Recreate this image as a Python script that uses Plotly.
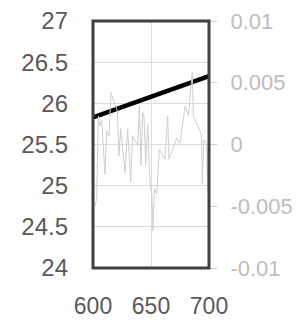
import plotly.graph_objects as go

# ---- data ----
trend_x = [600, 625, 650, 675, 700]
trend_y = [25.83, 25.955, 26.08, 26.205, 26.33]

noise_x = [601.7, 603.2, 604.6, 606.0, 607.5, 610.3, 611.8, 613.8, 615.5, 621.0,
           622.4, 623.9, 627.6, 629.9, 632.5, 634.2, 638.5, 640.0, 641.4, 642.8,
           644.0, 645.4, 647.1, 649.1, 650.6, 651.7, 652.9, 654.9, 657.2, 662.1,
           664.4, 665.5, 672.1, 675.0, 679.3, 682.2, 685.6, 686.5, 692.2, 693.7,
           694.2, 695.7, 698.0, 698.9, 699.5]
noise_y = [-0.0050, -0.0044, 0.0023, 0.0015, 0.0020, -0.0024, 0.0011, 0.0007, 0.0042, 0.0027,
           -0.0009, 0.0013, -0.0023, 0.0013, -0.0030, 0.0007, -0.0001, 0.0031, -0.0017, 0.0026,
           0.0023, -0.0017, 0.0016, -0.0031, -0.0039, -0.0070, -0.0036, -0.0040, -0.0004, -0.0012,
           0.0023, -0.0012, 0.0005, 0.0001, 0.0031, 0.0024, 0.0059, 0.0023, 0.0011, 0.0007,
           -0.0032, 0.0004, 0.0001, -0.0038, -0.0001]

x_ticks = [600, 650, 700]
left_ticks = [24, 24.5, 25, 25.5, 26, 26.5, 27]
left_labels = ["24", "24.5", "25", "25.5", "26", "26.5", "27"]
right_ticks = [-0.01, -0.005, 0, 0.005, 0.01]
right_labels = ["-0.01", "-0.005", "0", "0.005", "0.01"]

FONT = "Liberation Sans"

fig = go.Figure()
fig.add_trace(go.Scatter(x=noise_x, y=noise_y, yaxis="y2", mode="lines",
                         line=dict(color="#CFCFCF", width=1), hoverinfo="skip"))
fig.add_trace(go.Scatter(x=trend_x, y=trend_y, mode="lines",
                         line=dict(color="#000000", width=4.5), hoverinfo="skip"))

# page body keeps an 8px default margin, so the figure is sized to fit inside it
fig.update_layout(
    width=299, height=312,
    margin=dict(l=85, r=98, t=13, b=52, autoexpand=False),
    paper_bgcolor="white", plot_bgcolor="white",
    showlegend=False,
    xaxis=dict(range=[600, 700], tickvals=x_ticks, ticktext=[str(v) for v in x_ticks],
               showgrid=True, gridcolor="#DCDCDC", gridwidth=1, zeroline=False,
               ticks="", ticklabelstandoff=22, automargin=False,
               ticklabeloverflow="allow",
               tickfont=dict(family=FONT, size=23, color="#595959")),
    yaxis=dict(range=[24, 27], tickvals=left_ticks, ticktext=left_labels,
               showgrid=True, gridcolor="#DCDCDC", gridwidth=1, zeroline=False,
               ticks="", ticklabelstandoff=24, automargin=False,
               ticklabeloverflow="allow",
               tickfont=dict(family=FONT, size=24, color="#595959")),
    yaxis2=dict(range=[-0.01, 0.01], tickvals=right_ticks, ticktext=right_labels,
                overlaying="y", side="right", showgrid=False, zeroline=False,
                ticks="outside", ticklen=7, tickcolor="#D0D0D0", tickwidth=1,
                ticklabelstandoff=9, automargin=False,
                ticklabeloverflow="allow",
                tickfont=dict(family=FONT, size=22, color="#BDBDBD")),
)

fig.add_shape(type="rect", xref="paper", yref="paper", x0=0, x1=1, y0=0, y1=1,
              line=dict(color="#404040", width=3), layer="above")

fig.write_html("out.html")
